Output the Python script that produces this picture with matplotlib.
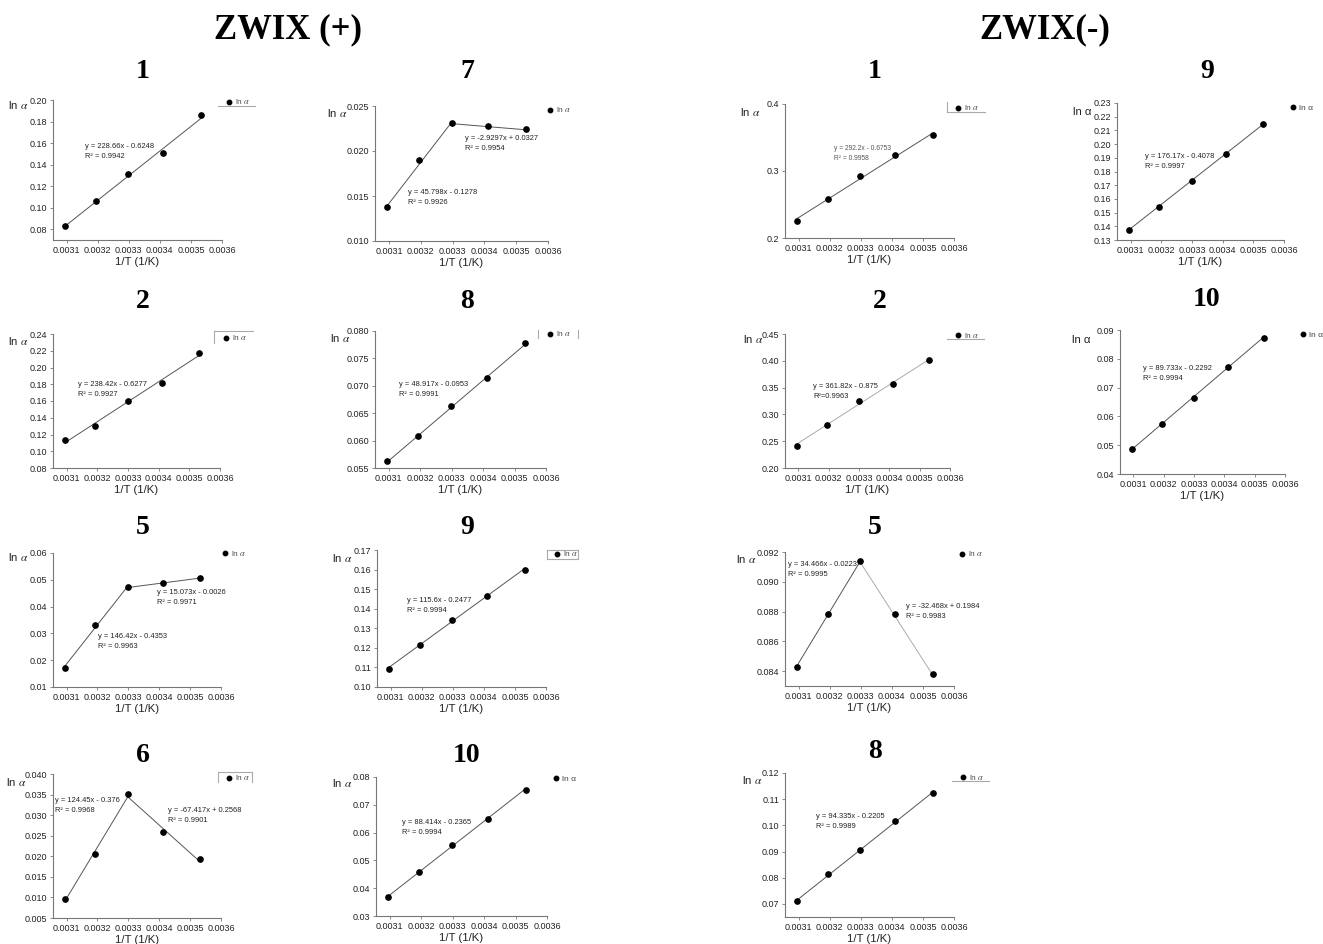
import numpy as np
import matplotlib
matplotlib.use("Agg")
import matplotlib.pyplot as plt
from matplotlib.lines import Line2D

plt.rcParams['font.family'] = ['Liberation Sans', 'DejaVu Sans']
plt.rcParams['mathtext.fontset'] = 'stix'

W, H = 1323, 944

# 1/T values (1/K) for 50, 40, 30, 20, 10 degC
inv_T = [0.003095, 0.003193, 0.003299, 0.003411, 0.003532]

# ln alpha, ZWIX(+)
zp1 = [0.0828, 0.1061, 0.1313, 0.1506, 0.1861]
zp7 = [0.01374, 0.01896, 0.02311, 0.02278, 0.02241]
zp2 = [0.1134, 0.1301, 0.1604, 0.1815, 0.2177]
zp8 = [0.05628, 0.06078, 0.06631, 0.07136, 0.07787]
zp5 = [0.01709, 0.03326, 0.04719, 0.04881, 0.05067]
zp9 = [0.10934, 0.12158, 0.13398, 0.14655, 0.15997]
zp6 = [0.00964, 0.02063, 0.03505, 0.02601, 0.01925]
zp10 = [0.0367, 0.0459, 0.0557, 0.0649, 0.0755]

# ln alpha, ZWIX(-)
zm1 = [0.2257, 0.2579, 0.2926, 0.3238, 0.3540]
zm9 = [0.1376, 0.1541, 0.1729, 0.1928, 0.2150]
zm2 = [0.2416, 0.2800, 0.3253, 0.3576, 0.4016]
zm10 = [0.0486, 0.0575, 0.0664, 0.0773, 0.0873]
zm5 = [0.08429, 0.08785, 0.09140, 0.08783, 0.08378]
zm8 = [0.0712, 0.0815, 0.0907, 0.1017, 0.1122]

# trendlines: slope, intercept, R2, first point, last point
fit_zp1 = [(228.66, -0.6248, 0.9942, 0, 4)]
fit_zp7 = [(45.798, -0.1278, 0.9926, 0, 2), (-2.9297, 0.0327, 0.9954, 2, 4)]
fit_zp2 = [(238.42, -0.6277, 0.9927, 0, 4)]
fit_zp8 = [(48.917, -0.0953, 0.9991, 0, 4)]
fit_zp5 = [(146.42, -0.4353, 0.9963, 0, 2), (15.073, -0.0026, 0.9971, 2, 4)]
fit_zp9 = [(115.6, -0.2477, 0.9994, 0, 4)]
fit_zp6 = [(124.45, -0.376, 0.9968, 0, 2), (-67.417, 0.2568, 0.9901, 2, 4)]
fit_zp10 = [(88.414, -0.2365, 0.9994, 0, 4)]
fit_zm1 = [(292.2, -0.6753, 0.9958, 0, 4)]
fit_zm9 = [(176.17, -0.4078, 0.9997, 0, 4)]
fit_zm2 = [(361.82, -0.875, 0.9963, 0, 4)]
fit_zm10 = [(89.733, -0.2292, 0.9994, 0, 4)]
fit_zm5 = [(34.466, -0.0223, 0.9995, 0, 2), (-32.468, 0.1984, 0.9983, 2, 4)]
fit_zm8 = [(94.335, -0.2205, 0.9989, 0, 4)]

x_ticks = [0.0031, 0.0032, 0.0033, 0.0034, 0.0035, 0.0036]

# layout in image pixels: box = (left, top, right, bottom)
panels = [
    dict(t='1', y=zp1, f=fit_zp1, box=(53, 100, 222, 240), ylim=(0.07, 0.20), yt=(0.08, 0.20, 0.02), dec=2,
         tp=(143, 72), lab=(8, 105), leg=(229, 102, 'under'), eq=[(85, 147)]),
    dict(t='7', y=zp7, f=fit_zp7, box=(375, 106, 548, 241), ylim=(0.010, 0.025), yt=(0.010, 0.025, 0.005), dec=3,
         tp=(467, 72), lab=(327, 113), leg=(550, 110, 'none'), eq=[(408, 193), (465, 139)]),
    dict(t='2', y=zp2, f=fit_zp2, box=(53, 334, 220, 468), ylim=(0.08, 0.24), yt=(0.08, 0.24, 0.02), dec=2,
         tp=(143, 302), lab=(8, 341), leg=(226, 338, 'topleft'), eq=[(78, 384)]),
    dict(t='8', y=zp8, f=fit_zp8, box=(375, 331, 546, 468), ylim=(0.055, 0.080), yt=(0.055, 0.080, 0.005), dec=3,
         tp=(467, 302), lab=(330, 338), leg=(550, 334, 'sides'), eq=[(399, 384)]),
    dict(t='5', y=zp5, f=fit_zp5, box=(53, 553, 221, 687), ylim=(0.01, 0.06), yt=(0.01, 0.06, 0.01), dec=2,
         tp=(143, 528), lab=(8, 557), leg=(225, 553, 'none'), eq=[(98, 637), (157, 593)]),
    dict(t='9', y=zp9, f=fit_zp9, box=(377, 550, 546, 687), ylim=(0.10, 0.17), yt=(0.10, 0.17, 0.01), dec=2,
         tp=(467, 528), lab=(332, 558), leg=(557, 554, 'box'), eq=[(407, 600)]),
    dict(t='6', y=zp6, f=fit_zp6, box=(53, 774, 221, 918), ylim=(0.005, 0.040), yt=(0.005, 0.040, 0.005), dec=3,
         tp=(143, 755), lab=(6, 782), leg=(229, 778, 'box3'), eq=[(55, 801), (168, 810)]),
    dict(t='10', y=zp10, f=fit_zp10, box=(376, 777, 547, 916), ylim=(0.03, 0.08), yt=(0.03, 0.08, 0.01), dec=2,
         tp=(467, 755), lab=(332, 783), leg=(556, 779, 'none'), eq=[(402, 822)], up_leg=True),
    dict(t='1', y=zm1, f=fit_zm1, box=(785, 104, 954, 238), ylim=(0.2, 0.4), yt=(0.2, 0.4, 0.1), dec=1,
         tp=(875, 72), lab=(740, 112), leg=(958, 108, 'leftunder'), eq=[(834, 149)], small=True),
    dict(t='9', y=zm9, f=fit_zm9, box=(1117, 103, 1284, 240), ylim=(0.13, 0.23), yt=(0.13, 0.23, 0.01), dec=2,
         tp=(1207, 72), lab=(1073, 112), leg=(1293, 108, 'none'), eq=[(1145, 156)], up_leg=True, up_lab=True),
    dict(t='2', y=zm2, f=fit_zm2, box=(785, 334, 950, 468), ylim=(0.20, 0.45), yt=(0.20, 0.45, 0.05), dec=2,
         tp=(880, 302), lab=(743, 339), leg=(958, 335, 'under'), eq=[(813, 387)], lc=['#aaaaaa'], compact=True),
    dict(t='10', y=zm10, f=fit_zm10, box=(1120, 330, 1285, 474), ylim=(0.04, 0.09), yt=(0.04, 0.09, 0.01), dec=2,
         tp=(1207, 300), lab=(1072, 340), leg=(1303, 335, 'none'), eq=[(1143, 369)], up_leg=True, up_lab=True),
    dict(t='5', y=zm5, f=fit_zm5, box=(785, 552, 954, 686), ylim=(0.083, 0.092), yt=(0.084, 0.092, 0.002), dec=3,
         tp=(875, 528), lab=(736, 559), leg=(962, 554, 'none'), eq=[(788, 565), (906, 607)],
         lc=['#555555', '#aaaaaa']),
    dict(t='8', y=zm8, f=fit_zm8, box=(785, 773, 954, 917), ylim=(0.065, 0.12), yt=(0.07, 0.12, 0.01), dec=2,
         tp=(875, 752), lab=(742, 780), leg=(963, 777, 'under'), eq=[(816, 816)]),
]

# legend decoration segments relative to the legend marker (pixels)
frames = {
    'none': [],
    'under': [(-11, 4, 26, 4)],
    'topleft': [(-12, -7, 27, -7), (-12, -7, -12, 5)],
    'box3': [(-11, -6, 23, -6), (-11, -6, -11, 4), (23, -6, 23, 4)],
    'sides': [(-12, -4, -12, 4), (28, -4, 28, 4)],
    'box': [(-10, -4, 21, -4), (21, -4, 21, 5), (21, 5, -10, 5), (-10, 5, -10, -4)],
    'leftunder': [(-11, -6, -11, 4), (-11, 4, 27, 4)],
}


def fx(x):
    return x / W


def fy(y):
    return 1 - y / H


fig = plt.figure(figsize=(W / 100, H / 100), dpi=100)
serif = ['Liberation Serif', 'DejaVu Serif']
fig.text(fx(288), fy(30), 'ZWIX (+)', ha='center', va='center', fontsize=25, fontweight='bold', family=serif)
fig.text(fx(1045), fy(30), 'ZWIX(-)', ha='center', va='center', fontsize=25, fontweight='bold', family=serif)

x = np.array(inv_T)
for p in panels:
    l, t, r, b = p['box']
    ax = fig.add_axes([fx(l), fy(b), (r - l) / W, (b - t) / H])
    y = np.array(p['y'])
    lcs = p.get('lc', ['#555555', '#555555'])
    for k, (s, c, r2, i0, i1) in enumerate(p['f']):
        xs = x[[i0, i1]]
        ax.plot(xs, s * xs + c, color=lcs[k % len(lcs)], lw=0.7, zorder=2)
        ex, ey = p['eq'][k]
        sign = '-' if c < 0 else '+'
        fs = 4.8 if p.get('small') else 5.4
        col = '#555555' if p.get('small') else '#222222'
        fig.text(fx(ex), fy(ey), f'y = {s:g}x {sign} {abs(c):g}', fontsize=fs, color=col, va='center')
        rtxt = f'R²={r2:g}' if p.get('compact') else f'R² = {r2:g}'
        fig.text(fx(ex), fy(ey + 10), rtxt, fontsize=fs, color=col, va='center')
    ax.plot(x, y, 'o', color='black', ms=3.8, zorder=3)

    ax.set_xlim(0.003056, 0.0036)
    ax.set_ylim(*p['ylim'])
    ax.set_xticks(x_ticks)
    ax.set_xticklabels([f'{v:.4f}' for v in x_ticks])
    y0, y1, st = p['yt']
    yt = np.round(np.arange(y0, y1 + st / 2, st), 4)
    ax.set_yticks(yt)
    ax.set_yticklabels([f'{v:.{p["dec"]}f}' for v in yt])
    for side in ['top', 'right']:
        ax.spines[side].set_visible(False)
    for side in ['left', 'bottom']:
        ax.spines[side].set_color('#777777')
        ax.spines[side].set_linewidth(0.8)
    ax.tick_params(direction='out', length=2.5, width=0.6, colors='#777777', labelcolor='#222222',
                   labelsize=6.5, pad=1.5)
    ax.set_xlabel('1/T (1/K)', fontsize=8.2, labelpad=2, color='#222222')
    ax.patch.set_alpha(0)

    # y label in the top-left corner
    lx, ly = p['lab']
    lab = 'ln α' if p.get('up_lab') else r'ln $\alpha$'
    fig.text(fx(lx), fy(ly), lab, fontsize=8.2, va='center', ha='left', color='#222222')

    # legend just right of the plot area
    mx, my, style = p['leg']
    ltxt = 'ln α' if p.get('up_leg') else r'ln $\alpha$'
    h = Line2D([], [], marker='o', ls='none', color='black', ms=3.2, label=ltxt)
    ax.legend(handles=[h], loc='center left',
              bbox_to_anchor=((mx - 4.5 - l) / (r - l), (b - my) / (b - t)),
              frameon=False, fontsize=6, handlelength=1.0, handletextpad=0.3,
              borderpad=0, borderaxespad=0, labelcolor='#444444')
    for dx0, dy0, dx1, dy1 in frames[style]:
        fig.add_artist(Line2D([fx(mx + dx0), fx(mx + dx1)], [fy(my + dy0), fy(my + dy1)],
                              transform=fig.transFigure, color='#aaaaaa', lw=0.8))

    tx, ty = p['tp']
    fig.text(fx(tx), fy(ty), p['t'], ha='center', va='center', fontsize=20, fontweight='bold', family=serif)

fig.savefig('out.png', dpi=100, facecolor='white')
